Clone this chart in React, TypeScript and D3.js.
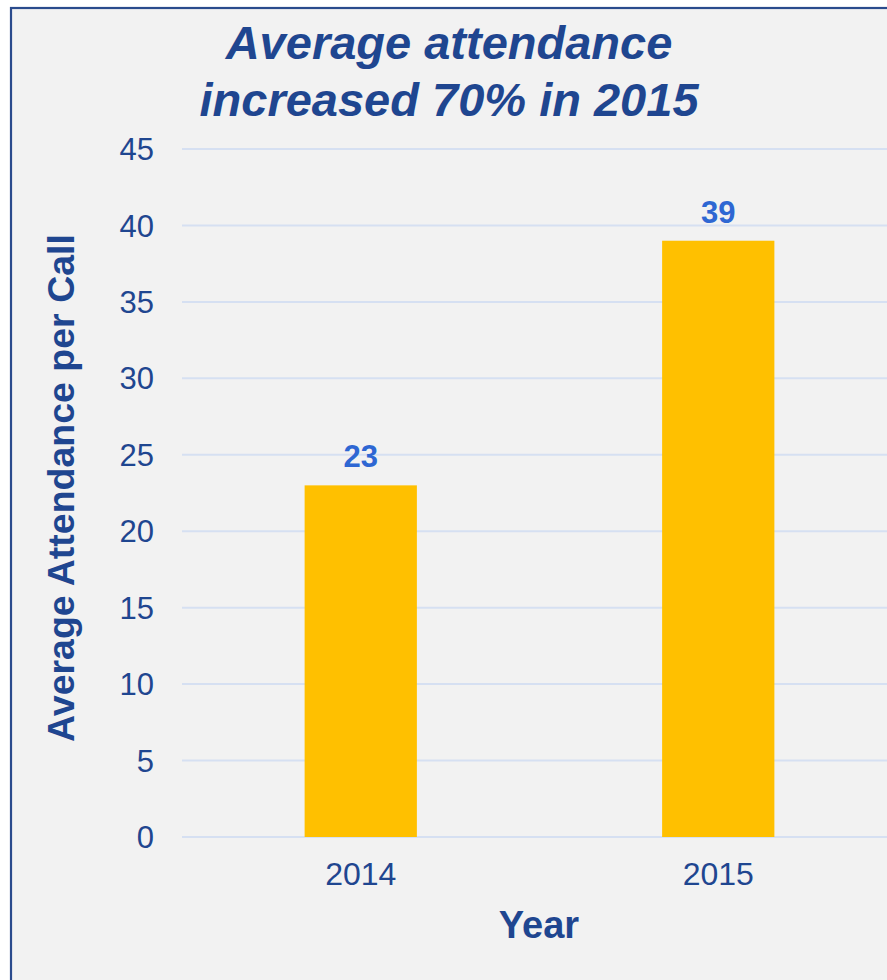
import * as d3 from "d3";
import React from "react";

const years = ["2014", "2015"];
const attendance = [23, 39];
const yTicks = [0, 5, 10, 15, 20, 25, 30, 35, 40, 45];
const titleLines = ["Average attendance", "increased 70% in 2015"];

export default function App() {
  const width = 887;
  const height = 980;
  const margin = { top: 149, right: -10, bottom: 143, left: 182 };

  const x = d3
    .scaleBand<string>()
    .domain(years)
    .range([margin.left, width - margin.right])
    .paddingInner(0.686)
    .paddingOuter(0.343);

  const y = d3
    .scaleLinear()
    .domain([0, 45])
    .range([height - margin.bottom, margin.top]);

  const dark = "#1f4690";
  const font = "Liberation Sans, Arial, sans-serif";

  return (
    <svg
      width={width}
      height={height}
      viewBox={`0 0 ${width} ${height}`}
      style={{ position: "absolute", left: 0, top: 0, background: "#ffffff" }}
      fontFamily={font}
    >
      <rect x={11} y={8} width={width + 20} height={height + 20} fill="#f2f2f2" stroke="#2a4b8d" strokeWidth={2.2} />

      {/* title */}
      {titleLines.map((t, i) => (
        <text
          key={t}
          x={449}
          y={59 + i * 57}
          textAnchor="middle"
          fontSize={47}
          fontWeight="bold"
          fontStyle="italic"
          fill={dark}
        >
          {t}
        </text>
      ))}

      {/* grid + y ticks */}
      {yTicks.map((t) => (
        <g key={t}>
          <line x1={margin.left} x2={width} y1={y(t)} y2={y(t)} stroke="#d6e0f2" strokeWidth={2} />
          <text x={154} y={y(t)} dy="0.36em" textAnchor="end" fontSize={31} fill={dark}>
            {t}
          </text>
        </g>
      ))}

      {/* bars */}
      {years.map((yr, i) => (
        <g key={yr}>
          <rect
            x={x(yr)}
            y={y(attendance[i])}
            width={x.bandwidth()}
            height={y(0) - y(attendance[i])}
            fill="#ffc000"
          />
          <text
            x={(x(yr) ?? 0) + x.bandwidth() / 2}
            y={y(attendance[i]) - 18}
            textAnchor="middle"
            fontSize={31}
            fontWeight="bold"
            fill="#2e67d3"
          >
            {attendance[i]}
          </text>
          <text
            x={(x(yr) ?? 0) + x.bandwidth() / 2}
            y={885}
            textAnchor="middle"
            fontSize={32}
            fill={dark}
          >
            {yr}
          </text>
        </g>
      ))}

      {/* axis titles */}
      <text x={539} y={938} textAnchor="middle" fontSize={38} fontWeight="bold" fill={dark}>
        Year
      </text>
      <text
        transform={`translate(74,488) rotate(-90)`}
        textAnchor="middle"
        fontSize={37.5}
        fontWeight="bold"
        fill={dark}
      >
        Average Attendance per Call
      </text>
    </svg>
  );
}
